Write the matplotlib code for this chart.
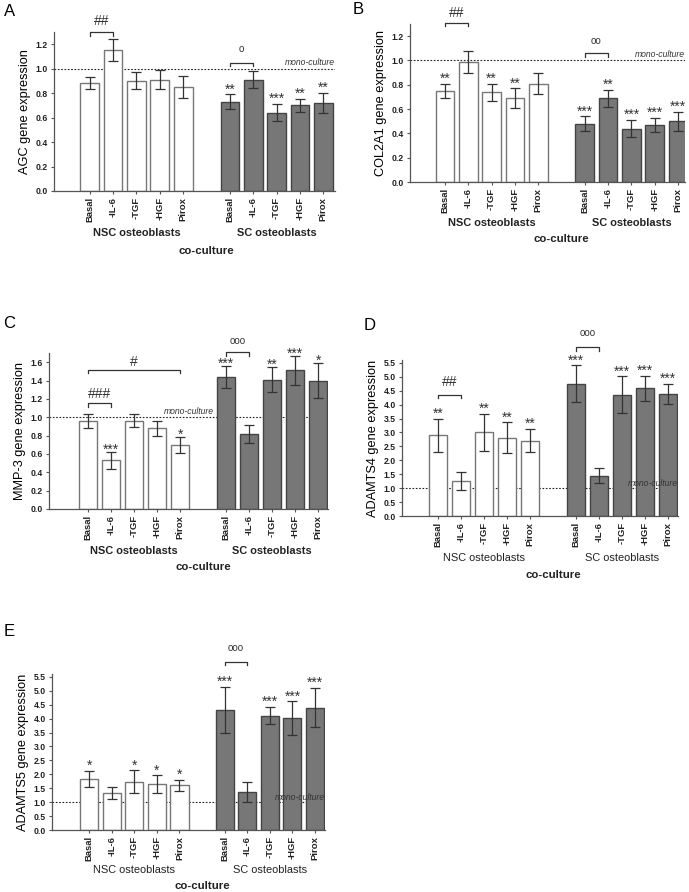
import matplotlib
matplotlib.use("Agg")
import matplotlib.pyplot as plt

plt.rcParams['font.family'] = ['Liberation Sans', 'DejaVu Sans']

# -------------------------------------------------------
# Datos
# -------------------------------------------------------
treatments = ["Basal", "-IL-6", "-TGF", "-HGF", "Pirox"]
groups = ["NSC osteoblasts", "SC osteoblasts"]

agc_nsc = [0.88, 1.15, 0.90, 0.91, 0.85]
agc_nsc_err = [0.05, 0.09, 0.07, 0.08, 0.09]
agc_sc = [0.73, 0.91, 0.64, 0.70, 0.72]
agc_sc_err = [0.06, 0.07, 0.07, 0.05, 0.08]
agc_stars_nsc = ["", "", "", "", ""]
agc_stars_sc = ["**", "", "***", "**", "**"]

col_nsc = [0.75, 0.99, 0.74, 0.69, 0.81]
col_nsc_err = [0.06, 0.09, 0.07, 0.08, 0.09]
col_sc = [0.48, 0.69, 0.44, 0.47, 0.50]
col_sc_err = [0.06, 0.07, 0.07, 0.055, 0.08]
col_stars_nsc = ["**", "", "**", "**", ""]
col_stars_sc = ["***", "**", "***", "***", "***"]

mmp_nsc = [0.96, 0.53, 0.96, 0.88, 0.70]
mmp_nsc_err = [0.08, 0.09, 0.07, 0.08, 0.09]
mmp_sc = [1.44, 0.82, 1.41, 1.51, 1.40]
mmp_sc_err = [0.12, 0.10, 0.14, 0.16, 0.19]
mmp_stars_nsc = ["", "***", "", "", "*"]
mmp_stars_sc = ["***", "", "**", "***", "*"]

adamts4_nsc = [2.90, 1.25, 3.01, 2.81, 2.71]
adamts4_nsc_err = [0.60, 0.32, 0.66, 0.55, 0.42]
adamts4_sc = [4.75, 1.45, 4.36, 4.58, 4.38]
adamts4_sc_err = [0.66, 0.26, 0.65, 0.46, 0.35]
adamts4_stars_nsc = ["**", "", "**", "**", "**"]
adamts4_stars_sc = ["***", "", "***", "***", "***"]

adamts5_nsc = [1.82, 1.32, 1.74, 1.65, 1.61]
adamts5_nsc_err = [0.29, 0.21, 0.40, 0.31, 0.20]
adamts5_sc = [4.31, 1.35, 4.11, 4.01, 4.39]
adamts5_sc_err = [0.84, 0.36, 0.30, 0.61, 0.70]
adamts5_stars_nsc = ["*", "", "*", "*", "*"]
adamts5_stars_sc = ["***", "", "***", "***", "***"]

FIG_W, FIG_H = 689, 892
fig = plt.figure(figsize=(FIG_W / 100, FIG_H / 100), dpi=100)


def make_axes(x0, y0, x1, y1):
    # rectángulo en píxeles (origen arriba a la izquierda)
    return fig.add_axes([x0 / FIG_W, 1 - y1 / FIG_H, (x1 - x0) / FIG_W, (y1 - y0) / FIG_H])


def letter(x, y, s):
    fig.text(x / FIG_W, 1 - y / FIG_H, s, fontsize=12, ha="left", va="center")


def bracket(ax, xa, xb, y, h, label, ty, size=10):
    ax.plot([xa, xa, xb, xb], [y - h, y, y, y - h], color="#333333", lw=0.9,
            clip_on=False)
    ax.text((xa + xb) / 2, ty, label, ha="center", va="center", fontsize=size,
            color="#333333", clip_on=False)


def panel(ax, ylabel, nsc, nsc_err, sc, sc_err, st_nsc, st_sc,
          ylim, yticks, xlim, mono_x, mono_y, star_px, bold_groups,
          grp_y, cc_y):
    pos_nsc = list(range(5))
    pos_sc = [p + 6 for p in range(5)]

    ax.axhline(1.0, color="#222222", lw=0.8, ls=(0, (1.5, 1.5)), zorder=0)
    ax.bar(pos_nsc, nsc, width=0.8, color="white", edgecolor="#777777",
           linewidth=1.0, zorder=2)
    ax.bar(pos_sc, sc, width=0.8, color="#777777", edgecolor="#444444",
           linewidth=1.0, zorder=2)
    ax.errorbar(pos_nsc, nsc, yerr=nsc_err, fmt="none", ecolor="#333333",
                elinewidth=0.9, capsize=3.5, capthick=0.9, zorder=3)
    ax.errorbar(pos_sc, sc, yerr=sc_err, fmt="none", ecolor="#333333",
                elinewidth=0.9, capsize=3.5, capthick=0.9, zorder=3)

    for p, v, e, s in zip(pos_nsc + pos_sc, nsc + sc, nsc_err + sc_err, st_nsc + st_sc):
        if s:
            ax.annotate(s, xy=(p, v + e), xytext=(0, star_px),
                        textcoords="offset pixels", ha="center", va="baseline",
                        fontsize=10, color="#333333")

    ax.set_xlim(*xlim)
    ax.set_ylim(*ylim)
    ax.set_yticks(yticks)
    ax.set_yticklabels(["{:.1f}".format(t) for t in yticks], fontsize=6.2,
                       fontweight="bold", color="#222222")
    ax.set_xticks(pos_nsc + pos_sc)
    ax.set_xticklabels(treatments + treatments, rotation=90, fontsize=6.8,
                       fontweight="bold", color="#222222")
    ax.tick_params(axis="both", length=2.5, width=0.8, colors="#555555",
                   labelcolor="#222222", pad=2)
    for s in ["top", "right"]:
        ax.spines[s].set_visible(False)
    for s in ["left", "bottom"]:
        ax.spines[s].set_color("#555555")
        ax.spines[s].set_linewidth(0.9)

    ax.set_ylabel(ylabel, fontsize=9.2, labelpad=3)

    ax.text(mono_x, mono_y, "mono-culture", ha="right", va="center",
            fontsize=6.2, style="italic", color="#333333")

    w = "bold" if bold_groups else "normal"
    tr = ax.get_xaxis_transform()
    ax.annotate(groups[0], xy=(2, 0), xycoords=tr, xytext=(0, -grp_y),
                textcoords="offset pixels", ha="center", va="center",
                fontsize=7.9, fontweight=w, color="#222222")
    ax.annotate(groups[1], xy=(8, 0), xycoords=tr, xytext=(0, -grp_y),
                textcoords="offset pixels", ha="center", va="center",
                fontsize=7.9, fontweight=w, color="#222222")
    ax.annotate("co-culture", xy=(5, 0), xycoords=tr, xytext=(0, -cc_y),
                textcoords="offset pixels", ha="center", va="center",
                fontsize=8.2, fontweight="bold", color="#222222")


ticks_small = [0.0, 0.2, 0.4, 0.6, 0.8, 1.0, 1.2]
ticks_mmp = [0.0, 0.2, 0.4, 0.6, 0.8, 1.0, 1.2, 1.4, 1.6]
ticks_big = [0.0, 0.5, 1.0, 1.5, 2.0, 2.5, 3.0, 3.5, 4.0, 4.5, 5.0, 5.5]

# A
axA = make_axes(54, 32, 335, 191)
panel(axA, "AGC gene expression", agc_nsc, agc_nsc_err, agc_sc, agc_sc_err,
      agc_stars_nsc, agc_stars_sc, (0, 1.3), ticks_small,
      (-1.53, 10.5), 10.5, 1.05, 1, True, 42, 60)
bracket(axA, 0, 1, 1.30, 0.03, "##", 1.39)
bracket(axA, 6, 7, 1.05, 0.03, "o", 1.16, size=7)
letter(4, 12, "A")

# B
axB = make_axes(410, 24, 685, 182)
panel(axB, "COL2A1 gene expression", col_nsc, col_nsc_err, col_sc, col_sc_err,
      col_stars_nsc, col_stars_sc, (0, 1.3), ticks_small,
      (-1.5, 10.3), 10.3, 1.05, 1, True, 41, 57)
bracket(axB, 0, 1, 1.31, 0.03, "##", 1.39)
bracket(axB, 6, 7, 1.06, 0.03, "oo", 1.16, size=7)
letter(353, 10, "B")

# C
axC = make_axes(49, 353, 328, 509)
panel(axC, "MMP-3 gene expression", mmp_nsc, mmp_nsc_err, mmp_sc, mmp_sc_err,
      mmp_stars_nsc, mmp_stars_sc, (0, 1.7), ticks_mmp,
      (-1.7, 10.43), 5.45, 1.065, -2, True, 42, 58)
bracket(axC, 0, 1, 1.15, 0.04, "###", 1.25)
bracket(axC, 0, 4, 1.52, 0.04, "#", 1.6)
bracket(axC, 6, 7, 1.71, 0.04, "ooo", 1.83, size=7)
letter(3, 324, "C")

# D
axD = make_axes(402, 360, 678, 516)
panel(axD, "ADAMTS4 gene expression", adamts4_nsc, adamts4_nsc_err,
      adamts4_sc, adamts4_sc_err, adamts4_stars_nsc, adamts4_stars_sc,
      (0, 5.6), ticks_big, (-1.57, 10.43), 10.43, 1.17, 1, False, 42, 59)
bracket(axD, 0, 1, 4.36, 0.13, "##", 4.82)
bracket(axD, 6, 7, 6.07, 0.13, "ooo", 6.57, size=7)
letter(364, 326, "D")

# E
axE = make_axes(52, 674, 325, 830)
panel(axE, "ADAMTS5 gene expression", adamts5_nsc, adamts5_nsc_err,
      adamts5_sc, adamts5_sc_err, adamts5_stars_nsc, adamts5_stars_sc,
      (0, 5.6), ticks_big, (-1.64, 10.44), 10.44, 1.18, 1, False, 40, 56)
bracket(axE, 6, 7, 6.04, 0.13, "ooo", 6.55, size=7)
letter(4, 631, "E")

fig.savefig("out.png", dpi=100)
